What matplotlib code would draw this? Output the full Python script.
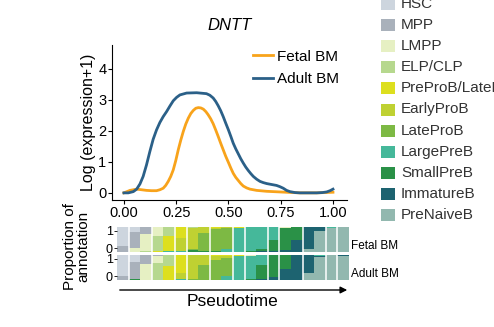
import numpy as np
import matplotlib
matplotlib.use('Agg')
import matplotlib.pyplot as plt
from matplotlib.patches import Rectangle, FancyArrowPatch

plt.rcParams['font.family'] = ['Liberation Sans', 'DejaVu Sans']

# expression curves along pseudotime
fetal_t = [0.0, 0.029, 0.061, 0.085, 0.108, 0.132, 0.156, 0.172, 0.188, 0.2, 0.212, 0.224,
           0.236, 0.248, 0.26, 0.272, 0.284, 0.296, 0.308, 0.32, 0.332, 0.344, 0.356, 0.368,
           0.38, 0.392, 0.403, 0.415, 0.427, 0.439, 0.451, 0.463, 0.475, 0.487, 0.5, 0.512,
           0.523, 0.535, 0.547, 0.559, 0.571, 0.587, 0.603, 0.619, 0.635, 0.683, 0.73, 0.79,
           0.842, 0.922, 1.0]
fetal_expr = [0.0, 0.08, 0.12, 0.1, 0.08, 0.07, 0.07, 0.1, 0.15, 0.24, 0.37, 0.53,
              0.74, 1.04, 1.39, 1.7, 1.98, 2.22, 2.41, 2.56, 2.66, 2.73, 2.75, 2.74,
              2.7, 2.62, 2.52, 2.39, 2.23, 2.03, 1.82, 1.6, 1.39, 1.18, 0.98, 0.79,
              0.63, 0.5, 0.4, 0.3, 0.22, 0.16, 0.12, 0.1, 0.08, 0.05, 0.035, 0.015,
              0.0, 0.0, 0.02]
adult_t = [0.0, 0.021, 0.045, 0.061, 0.077, 0.092, 0.108, 0.124, 0.14, 0.156, 0.172, 0.188,
           0.204, 0.22, 0.236, 0.252, 0.268, 0.284, 0.3, 0.348, 0.395, 0.411, 0.427, 0.439,
           0.451, 0.463, 0.475, 0.487, 0.5, 0.512, 0.523, 0.535, 0.547, 0.559, 0.571, 0.583,
           0.595, 0.607, 0.619, 0.635, 0.651, 0.667, 0.683, 0.706, 0.73, 0.746, 0.762, 0.778,
           0.794, 0.818, 0.842, 0.88, 0.922, 0.95, 0.97, 0.986, 1.0]
adult_expr = [0.0, 0.0, 0.04, 0.12, 0.29, 0.53, 0.9, 1.33, 1.73, 2.03, 2.27, 2.46,
              2.62, 2.8, 2.97, 3.08, 3.16, 3.19, 3.22, 3.23, 3.2, 3.15, 3.06, 2.95,
              2.81, 2.65, 2.46, 2.25, 2.03, 1.81, 1.6, 1.42, 1.26, 1.1, 0.96, 0.83,
              0.72, 0.62, 0.53, 0.44, 0.37, 0.33, 0.3, 0.27, 0.24, 0.2, 0.15, 0.08,
              0.04, 0.01, 0.0, 0.0, 0.0, 0.01, 0.03, 0.07, 0.12]

categories = ['HSC', 'MPP', 'LMPP', 'ELP/CLP', 'PreProB/LateProB', 'EarlyProB', 'LateProB',
              'LargePreB', 'SmallPreB', 'ImmatureB', 'PreNaiveB']
cat_colors = ['#CDD5DE', '#A9B1BB', '#E6F0C3', '#B6D88E', '#DDDF1E', '#BFD132', '#7DB944',
              '#45B89A', '#2A9147', '#1D6370', '#92B8AF']

# proportion of each annotation in 20 pseudotime bins
fetal_prop = {
    'HSC':              [.76, .20, 0, 0, 0, 0, 0, 0, 0, 0, 0, 0, 0, 0, 0, 0, 0, 0, 0, 0],
    'MPP':              [.24, .64, .28, 0, 0, 0, 0, 0, 0, 0, 0, 0, 0, 0, 0, 0, 0, 0, 0, 0],
    'LMPP':             [0, .16, .68, .35, 0, 0, 0, 0, 0, 0, 0, 0, 0, 0, .04, 0, 0, 0, 0, 0],
    'ELP/CLP':          [0, 0, .04, .62, .35, 0, .03, 0, 0, 0, 0, 0, 0, 0, 0, 0, 0, 0, 0, 0],
    'PreProB/LateProB': [0, 0, 0, .03, .62, .44, 0, 0, .05, 0, .04, 0, 0, 0, 0, 0, 0, 0, 0, 0],
    'EarlyProB':        [0, 0, 0, 0, 0, .51, .85, .25, .03, .04, 0, 0, 0, 0, 0, 0, 0, 0, 0, 0],
    'LateProB':         [0, 0, 0, 0, 0, 0, .06, .70, .87, .85, 0, 0, 0, 0, 0, 0, 0, 0, 0, 0],
    'LargePreB':        [0, 0, 0, 0, .03, .05, 0, 0, 0, .11, .96, .95, .90, .51, 0, 0, 0, 0, .04, 0],
    'SmallPreB':        [0, 0, 0, 0, 0, 0, .06, .05, .05, 0, 0, .05, .07, .45, .87, .51, 0, 0, 0, 0],
    'ImmatureB':        [0, 0, 0, 0, 0, 0, 0, 0, 0, 0, 0, 0, .03, .04, .09, .49, .88, .15, 0, 0],
    'PreNaiveB':        [0, 0, 0, 0, 0, 0, 0, 0, 0, 0, 0, 0, 0, 0, 0, 0, .12, .85, .96, 1.0],
}
adult_prop = {
    'HSC':              [.83, .27, 0, 0, 0, 0, 0, 0, 0, 0, 0, 0, 0, 0, 0, 0, 0, 0, 0, 0],
    'MPP':              [.17, .67, .36, .04, 0, 0, 0, 0, 0, 0, 0, 0, 0, 0, 0, 0, 0, 0, 0, 0],
    'LMPP':             [0, 0, .64, .29, 0, 0, 0, 0, 0, 0, 0, .04, 0, 0, 0, 0, 0, 0, 0, 0],
    'ELP/CLP':          [0, 0, 0, .67, .43, 0, 0, 0, 0, 0, 0, 0, 0, 0, 0, 0, 0, 0, 0, 0],
    'PreProB/LateProB': [0, 0, 0, 0, .57, .72, 0, 0, .04, .05, .05, 0, 0, 0, 0, 0, 0, 0, 0, 0],
    'EarlyProB':        [0, 0, 0, 0, 0, .24, .96, .40, .16, .06, 0, 0, 0, 0, 0, 0, 0, 0, 0, 0],
    'LateProB':         [0, 0, 0, 0, 0, 0, .04, .60, .80, .72, 0, 0, 0, 0, 0, 0, 0, 0, 0, 0],
    'LargePreB':        [0, 0, 0, 0, 0, .04, 0, 0, 0, .17, .95, .92, .40, 0, 0, 0, 0, .03, 0, 0],
    'SmallPreB':        [0, .06, 0, 0, 0, 0, 0, 0, 0, 0, 0, .04, .56, .87, .56, 0, 0, 0, 0, 0],
    'ImmatureB':        [0, 0, 0, 0, 0, 0, 0, 0, 0, 0, 0, 0, .04, .13, .44, 1.0, .72, .04, 0, .04],
    'PreNaiveB':        [0, 0, 0, 0, 0, 0, 0, 0, 0, 0, 0, 0, 0, 0, 0, 0, .28, .93, 1.0, .96],
}

# bins followed by a white separator in the strip
gap_after = [0, 2, 4, 5, 7, 9, 10, 12, 13, 15, 17, 18]

fig = plt.figure(figsize=(4.94, 3.27), dpi=100)

# main line plot
ax = fig.add_axes([0.2267, 0.3884, 0.4757, 0.474])
ax.plot(fetal_t, fetal_expr, color='#F8A31B', lw=2, label='Fetal BM')
ax.plot(adult_t, adult_expr, color='#2B6088', lw=2, label='Adult BM')
ax.set_xlim(-0.057, 1.067)
ax.set_ylim(-0.23, 4.77)
ax.set_xticks([0, 0.25, 0.5, 0.75, 1.0])
ax.set_xticklabels(['0.00', '0.25', '0.50', '0.75', '1.00'])
ax.set_yticks([0, 1, 2, 3, 4])
ax.tick_params(labelsize=10.5, length=3, width=0.8, pad=1)
for s in ['top', 'right']:
    ax.spines[s].set_visible(False)
ax.set_ylabel('Log (expression+1)', fontsize=11.5, labelpad=1.5)
ax.set_title('DNTT', fontstyle='italic', fontsize=12, pad=11)
ax.legend(loc='upper right', frameon=False, fontsize=11, handlelength=1.3,
          handletextpad=0.3, labelspacing=0.55, borderaxespad=0.1,
          bbox_to_anchor=(1.0, 1.02))

# proportion strips
def draw_strip(rect, props, name):
    sax = fig.add_axes(rect)
    n = len(props['HSC'])
    x = np.arange(n)
    mat = np.array([props[c] for c in categories], dtype=float)
    mat = mat / mat.sum(axis=0)
    bottom = np.zeros(n)
    for i in range(len(categories) - 1, -1, -1):
        sax.bar(x, mat[i], bottom=bottom, width=1.0, color=cat_colors[i], lw=0)
        bottom += mat[i]
    for g in gap_after:
        sax.axvline(g + 0.5, color='white', lw=1.1)
    sax.set_xlim(-0.5, n - 0.5)
    sax.set_ylim(0, 1)
    sax.set_yticks([0.15, 0.85])
    sax.set_yticklabels(['0', '1'])
    sax.set_xticks([])
    sax.tick_params(labelsize=9, length=2, width=0.6, pad=1)
    for s in sax.spines.values():
        s.set_visible(False)
    sax.text(1.01, 0.0, name, transform=sax.transAxes, fontsize=8.5,
             ha='left', va='bottom')
    return sax

draw_strip([0.2368, 0.2294, 0.4696, 0.0765], fetal_prop, 'Fetal BM')
draw_strip([0.2368, 0.1437, 0.4696, 0.0765], adult_prop, 'Adult BM')

fig.text(0.155, 0.245, 'Proportion of\nannotation', rotation=90, fontsize=11,
         ha='center', va='center', linespacing=1.0)

# pseudotime arrow
fig.add_artist(FancyArrowPatch(
    (117 / 494, 1 - 290 / 327), (350 / 494, 1 - 290 / 327), transform=fig.transFigure,
    arrowstyle='-|>', mutation_scale=10, color='black', lw=1))
fig.text(232 / 494, 1 - 302 / 327, 'Pseudotime', fontsize=12.5, ha='center', va='center')

# annotation legend (manual so it can run off the right edge like the original)
for i, (c, col) in enumerate(zip(categories, cat_colors)):
    yc = 1 - (4 + 21.1 * i) / 327
    fig.add_artist(Rectangle((381 / 494, yc - 6 / 327), 14 / 494, 12 / 327,
                             transform=fig.transFigure, color=col, lw=0))
    fig.text(401 / 494, yc, c, fontsize=11, ha='left', va='center', color='#333333')

fig.savefig('out.png', dpi=100)
